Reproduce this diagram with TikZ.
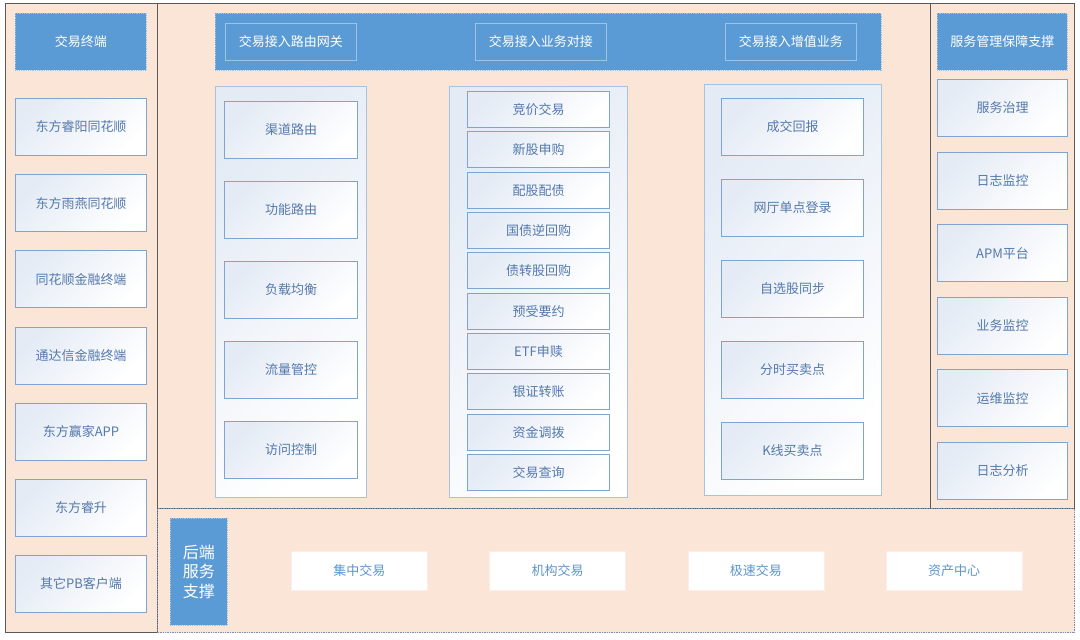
\documentclass[tikz,border=0pt]{standalone}
\usepackage{fontspec}
\setmainfont{Noto Sans CJK SC}
\definecolor{peach}{HTML}{FBE5D6}
\definecolor{hblue}{HTML}{5B9BD5}
\definecolor{hline}{HTML}{9DC3E6}
\definecolor{iborder}{HTML}{7FA4D0}
\definecolor{itext}{HTML}{5479AC}
\definecolor{grad}{HTML}{E4EBF5}
\definecolor{cborder}{HTML}{A8C3E2}
\definecolor{pline}{HTML}{5A5A5A}
\definecolor{bline}{HTML}{7792B4}
\definecolor{btext}{HTML}{5D95CF}
\newcommand\mybx[7]{%
  \pgfmathsetmacro\myw{#5-#3}\pgfmathsetmacro\myh{#6-#4}%
  \node[#2, minimum width=\myw pt, minimum height=\myh pt, anchor=north west] (#1) at (#3,#4) {#7};}
\tikzset{
  panel/.style={draw=pline, line width=0.8pt, fill=peach, inner sep=0pt},
  bpanel/.style={draw=bline, line width=1.4pt, densely dotted, fill=peach, inner sep=0pt},
  header/.style={fill=hblue, draw=hline, densely dotted, line width=0.8pt, text=white, inner sep=0pt, font=\fontsize{13}{15}\selectfont},
  hinner/.style={draw=hline, line width=0.8pt, text=white, inner sep=0pt, font=\fontsize{13}{15}\selectfont},
  container/.style={draw=cborder, line width=1.2pt, top color=grad, bottom color=white, shading angle=45, inner sep=0pt},
  itembox/.style={draw=iborder, line width=1pt, top color=grad, bottom color=white, shading angle=45, text=itext, inner sep=0pt, font=\fontsize{13}{15}\selectfont},
  wbox/.style={draw=peach!70!red!20, line width=0.5pt, fill=white, text=btext, inner sep=0pt, font=\fontsize{13}{15}\selectfont},
  vbox/.style={fill=hblue, draw=hline, densely dotted, line width=0.8pt, text=white, inner sep=0pt, align=center, font=\fontsize{16}{19.5}\selectfont},
}
\begin{document}
\begin{tikzpicture}[x=1pt,y=-1pt]
\useasboundingbox (0,0) rectangle (1080,640);
\fill[white] (0,0) rectangle (1080,640);
% panels
\mybx{leftp}{panel}{5}{3}{157}{632}{}
\mybx{midp}{panel}{157}{3}{930}{508}{}
\mybx{rightp}{panel}{930}{3}{1074}{508}{}
\mybx{botp}{bpanel}{157}{508}{1074}{632}{}
% headers
\mybx{h1}{header}{15}{13}{146}{70}{交易终端}
\mybx{h2}{header}{215}{13}{881}{70}{}
\mybx{g1}{hinner}{225}{23}{356}{60}{交易接入路由网关}
\mybx{g2}{hinner}{475}{23}{606}{60}{交易接入业务对接}
\mybx{g3}{hinner}{725}{23}{856}{60}{交易接入增值业务}
\mybx{h3}{header}{937}{13}{1067}{70}{服务管理保障支撑}
% left column
\foreach \t [count=\i] in {东方睿阳同花顺,东方雨燕同花顺,同花顺金融终端,通达信金融终端,东方赢家APP,东方睿升,其它PB客户端}{
  \pgfmathsetmacro\yy{98+76.17*(\i-1)}
  \mybx{lc\i}{itembox}{15}{\yy}{146}{\yy+57}{\t}
}
% containers
\mybx{c1}{container}{215}{86}{366}{497}{}
\mybx{c2}{container}{449}{86}{627}{497}{}
\mybx{c3}{container}{704}{84}{881}{495}{}
\foreach \t [count=\i] in {渠道路由,功能路由,负载均衡,流量管控,访问控制}{
  \pgfmathsetmacro\yy{101+80*(\i-1)}
  \mybx{a\i}{itembox}{224}{\yy}{357}{\yy+57}{\t}
}
\foreach \t [count=\i] in {竞价交易,新股申购,配股配债,国债逆回购,债转股回购,预受要约,ETF申赎,银证转账,资金调拨,交易查询}{
  \pgfmathsetmacro\yy{91+40.33*(\i-1)}
  \mybx{b\i}{itembox}{467}{\yy}{609}{\yy+36}{\t}
}
\foreach \t [count=\i] in {成交回报,网厅单点登录,自选股同步,分时买卖点,K线买卖点}{
  \pgfmathsetmacro\yy{98+81*(\i-1)}
  \mybx{v\i}{itembox}{721}{\yy}{863}{\yy+57}{\t}
}
% right column
\foreach \t [count=\i] in {服务治理,日志监控,APM平台,业务监控,运维监控,日志分析}{
  \pgfmathsetmacro\yy{79+72.6*(\i-1)}
  \mybx{r\i}{itembox}{937}{\yy}{1067}{\yy+57}{\t}
}
% bottom
\mybx{hd}{vbox}{170}{518}{227}{625}{后端\\服务\\支撑}
\foreach \t [count=\i] in {集中交易,机构交易,极速交易,资产中心}{
  \pgfmathsetmacro\xx{291+198.3*(\i-1)}
  \mybx{d\i}{wbox}{\xx}{551}{\xx+136}{590}{\t}
}
\end{tikzpicture}
\end{document}
